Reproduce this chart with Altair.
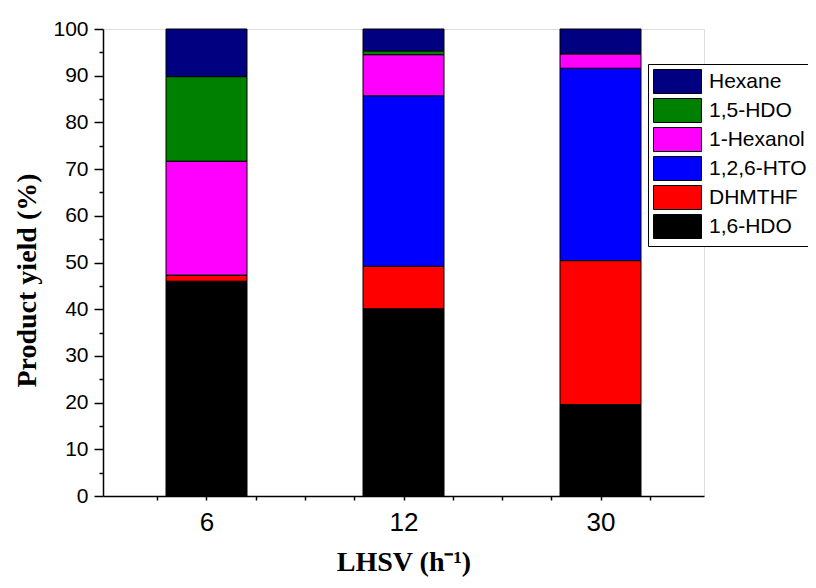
import altair as alt
import pandas as pd

lhsv = ["6", "12", "30"]
positions = [1, 2, 3]
products = ["1,6-HDO", "DHMTHF", "1,2,6-HTO", "1-Hexanol", "1,5-HDO", "Hexane"]
yield_6 = [46.0, 1.3, 0.0, 24.4, 18.1, 10.2]
yield_12 = [40.1, 9.1, 36.5, 8.8, 0.8, 4.7]
yield_30 = [19.6, 30.8, 41.2, 3.1, 0.0, 5.3]
colors = ["#000000", "#FF0000", "#0000FF", "#FF00FF", "#008000", "#000080"]

rows = []
for pos, lab, vals in zip(positions, lhsv, [yield_6, yield_12, yield_30]):
    for i, (p, v) in enumerate(zip(products, vals)):
        rows.append({"pos": pos, "lhsv": lab, "product": p, "idx": i, "value": v})
df = pd.DataFrame(rows)

legend_domain = products[::-1]
legend_range = colors[::-1]

label_expr = " : ".join(
    f"datum.value == {p} ? '{l}'" for p, l in zip(positions, lhsv)
) + " : ''"

x_ticks = [0.75 + 0.25 * k for k in range(11)]
y_ticks = list(range(0, 101, 5))

chart = alt.Chart(df).mark_bar(size=81, stroke="black", strokeWidth=1).encode(
    x=alt.X(
        "pos:Q",
        scale=alt.Scale(domain=[0.5, 3.5], nice=False, zero=False),
        axis=alt.Axis(
            values=x_ticks,
            labelExpr=label_expr,
            title="LHSV (h⁻¹)",
            titleFont="Liberation Serif",
            titleFontSize=28,
            titleFontWeight="bold",
            titleColor="black",
            titleY=52,
            titleBaseline="top",
            labelFont="Liberation Sans",
            labelFontSize=26,
            labelColor="black",
            labelPadding=9,
            tickSize=4,
            tickColor="black",
            tickWidth=1.5,
            domainColor="black",
            domainWidth=1.5,
            grid=False,
            labelFlush=False,
        ),
    ),
    y=alt.Y(
        "value:Q",
        stack="zero",
        scale=alt.Scale(domain=[0, 100], nice=False),
        axis=alt.Axis(
            values=y_ticks,
            labelExpr="datum.value % 10 === 0 ? datum.label : ''",
            title="Product yield (%)",
            titleFont="Liberation Serif",
            titleFontSize=28,
            titleFontWeight="bold",
            titleColor="black",
            titleX=-62,
            titleY=251,
            labelFont="Liberation Sans",
            labelFontSize=21,
            labelColor="black",
            labelPadding=6,
            tickSize={"condition": {"test": "datum.value % 10 === 0", "value": 9}, "value": 4},
            tickColor="black",
            tickWidth=1.5,
            domainColor="black",
            domainWidth=1.5,
            grid=False,
            labelFlush=False,
        ),
    ),
    color=alt.Color(
        "product:N",
        scale=alt.Scale(domain=legend_domain, range=legend_range),
        legend=alt.Legend(
            title=None,
            orient="none",
            legendX=545,
            legendY=35,
            padding=5,
            strokeColor="black",
            fillColor="white",
            symbolType="M-1,-1H3V1H-1Z",
            symbolSize=576,
            symbolStrokeColor="black",
            symbolStrokeWidth=1,
            symbolOpacity=1,
            labelFont="Liberation Sans",
            labelFontSize=21,
            labelColor="black",
            labelOffset=31,
            rowPadding=0,
            columns=1,
        ),
    ),
    order=alt.Order("idx:Q", sort="ascending"),
).properties(
    width=601,
    height=467,
    autosize=alt.AutoSizeParams(type="none"),
    padding={"left": 95, "top": 21, "right": 104, "bottom": 84},
).configure_view(stroke=None).configure(background="white")

chart.save("out.html", embed_options={"renderer": "svg", "actions": False})
